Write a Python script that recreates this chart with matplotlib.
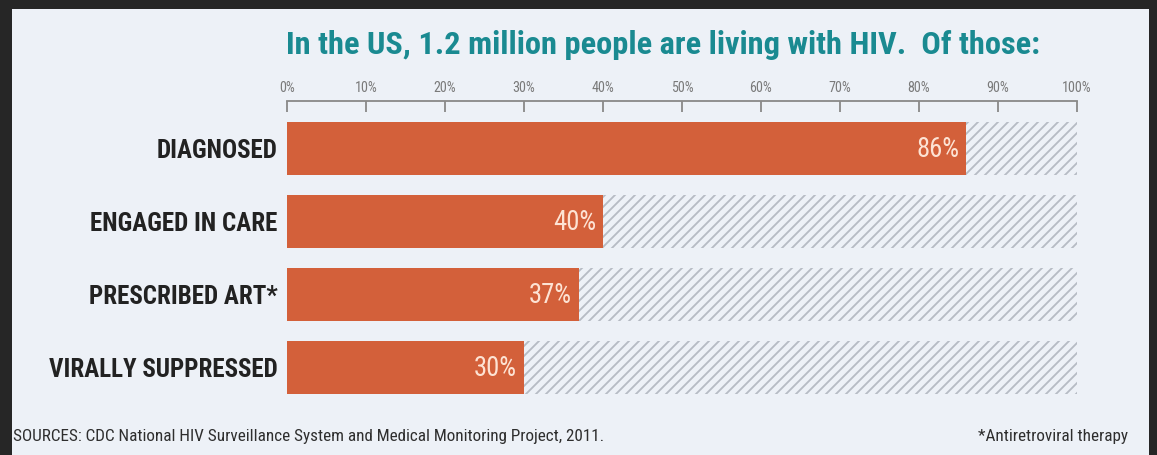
import matplotlib
matplotlib.use('Agg')
import matplotlib.pyplot as plt
from matplotlib.patches import Rectangle

categories = ['DIAGNOSED', 'ENGAGED IN CARE', 'PRESCRIBED ART*', 'VIRALLY SUPPRESSED']
percent = [86, 40, 37, 30]
ticks = [0, 10, 20, 30, 40, 50, 60, 70, 80, 90, 100]
tick_labels = ['%d%%' % t for t in ticks]

title = 'In the US, 1.2 million people are living with HIV.  Of those:'
source = 'SOURCES: CDC National HIV Surveillance System and Medical Monitoring Project, 2011.'
footnote = '*Antiretroviral therapy'

W, H, DPI = 1157, 455, 120
BAR = '#d3603a'
BG = '#edf1f7'
HATCH = '#b6bbc4'

plt.rcParams['font.family'] = ['Roboto Condensed', 'DejaVu Sans']
plt.rcParams['hatch.linewidth'] = 1.1

fig = plt.figure(figsize=(W / DPI, H / DPI), dpi=DPI, facecolor='#262626')
# light panel inside the dark frame
fig.patches.append(Rectangle((12 / W, 0), (1149 - 12) / W, (H - 9) / H,
                             transform=fig.transFigure, facecolor=BG,
                             edgecolor='none', zorder=-5))

# axes box in pixels: x 287..1077, y 101..400 (from top)
ax = fig.add_axes([287 / W, 1 - 400 / H, (1077 - 287) / W, (400 - 101) / H])
ax.set_facecolor('none')

y = list(range(len(categories)))
# striped remainder up to 100%
ax.barh(y, [100 - p for p in percent], left=percent, height=0.726,
        facecolor='none', edgecolor=HATCH, hatch='////', linewidth=0)
ax.barh(y, percent, height=0.726, color=BAR, edgecolor='none')

for i, p in enumerate(percent):
    ax.text(p - 0.9, i + 0.02, '%d%%' % p, ha='right', va='center',
            color='#fde3d4', fontsize=16)

ax.set_xlim(0, 100)
ax.set_ylim(3.445, -0.651)

ax.set_yticks(y)
ax.set_yticklabels(categories, fontsize=15, fontweight='bold', color='#222222')
ax.tick_params(axis='y', length=0, pad=5.5)

ax.xaxis.tick_top()
ax.set_xticks(ticks)
ax.set_xticklabels(tick_labels, fontsize=8.5, color='#7a7a7a')
ax.tick_params(axis='x', direction='in', length=6.6, width=1.1, color='#8a8a8a', pad=3.5)

for s in ['left', 'right', 'bottom']:
    ax.spines[s].set_visible(False)
ax.spines['top'].set_color('#8a8a8a')
ax.spines['top'].set_linewidth(1.1)

fig.text(663 / W, 1 - 45 / H, title, ha='center', va='center',
         color='#1a8a91', fontsize=19.4, fontweight='bold')
fig.text(13 / W, 1 - 437 / H, source, ha='left', va='center',
         color='#2e2e2e', fontsize=10.3)
fig.text(1128 / W, 1 - 437 / H, footnote, ha='right', va='center',
         color='#2e2e2e', fontsize=10.3)

fig.savefig('out.png', dpi=DPI, facecolor=fig.get_facecolor())
